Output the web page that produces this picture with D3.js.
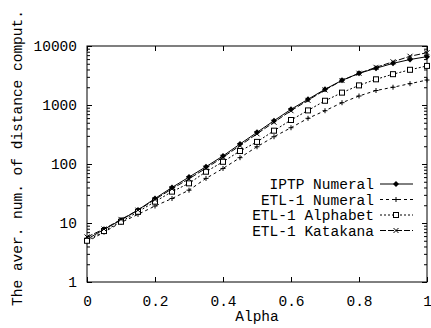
<!DOCTYPE html>
<html>
<head>
<meta charset="utf-8">
<script src="https://cdn.jsdelivr.net/npm/d3@7"></script>
<style>
body { margin: 0; background: #fff; }
text { font-family: "Liberation Mono", "Courier New", monospace; font-size: 14.5px; fill: #000; }
</style>
</head>
<body>
<script>
//alpha values on the x axis
var alphas = [0, 0.05, 0.1, 0.15, 0.2, 0.25, 0.3, 0.35, 0.4, 0.45, 0.5,
              0.55, 0.6, 0.65, 0.7, 0.75, 0.8, 0.85, 0.9, 0.95, 1];

//series values
var iptpNumeral = [5.3, 7.8, 11.2, 16.6, 26, 40, 60, 90, 137, 218, 344,
                   542, 845, 1250, 1846, 2620, 3440, 4200, 5080, 5900, 6600];
var etlNumeral = [4.8, 7.0, 10.2, 14, 19.4, 26, 36, 57, 84, 128, 196,
                  290, 412, 595, 800, 1094, 1420, 1760, 2000, 2300, 2650];
var etlAlphabet = [5.0, 7.3, 10.5, 15.5, 23, 34, 47, 74, 109, 166, 237,
                   367, 557, 810, 1180, 1620, 2150, 2725, 3330, 3950, 4600];
var etlKatakana = [5.8, 7.9, 11.5, 16.5, 25, 38, 56, 85, 130, 205, 325,
                   510, 800, 1200, 1800, 2600, 3450, 4350, 5400, 6700, 7700];

var seriesNames = ["IPTP Numeral", "ETL-1 Numeral", "ETL-1 Alphabet", "ETL-1 Katakana"];
var seriesValues = [iptpNumeral, etlNumeral, etlAlphabet, etlKatakana];

//tick labels
var xTicks = [0, 0.2, 0.4, 0.6, 0.8, 1];
var yTicks = [1, 10, 100, 1000, 10000];

window.onload = function(){

    var w = 431, h = 328;
    var svg = d3.select("body")
        .append("svg")
        .attr("width", w)
        .attr("height", h);

    var left = 87, right = 427, top = 46, bottom = 282;

    var x = d3.scaleLinear()
        .range([left, right])
        .domain([0, 1]);

    var y = d3.scaleLog()
        .range([bottom, top])
        .domain([1, 10000]);

    //line styles for each series
    var dashes = ["none", "3,3", "2,2", "6,2"];
    var markers = ["diamond", "plus", "square", "cross"];

    //frame
    svg.append("rect")
        .attr("x", left)
        .attr("y", top)
        .attr("width", right - left)
        .attr("height", bottom - top)
        .style("fill", "none")
        .style("stroke", "#000")
        .style("stroke-width", 1);

    //x axis, bottom and top, ticks pointing inward
    var xAxis = d3.axisBottom(x)
        .tickValues(xTicks)
        .tickSize(-5)
        .tickPadding(14)
        .tickFormat(function(d){ return d === 0 || d === 1 ? d3.format("d")(d) : d3.format(".1f")(d); });

    svg.append("g")
        .attr("transform", "translate(0," + bottom + ")")
        .call(xAxis);

    svg.append("g")
        .attr("transform", "translate(0," + top + ")")
        .call(d3.axisTop(x).tickValues(xTicks).tickSize(-5).tickFormat(""));

    //y axis with major and minor log ticks
    var minors = [];
    for (var p = 0; p < 4; p++){
        for (var k = 2; k < 10; k++){
            minors.push(k * Math.pow(10, p));
        }
    }

    svg.append("g")
        .attr("transform", "translate(" + left + ",0)")
        .call(d3.axisLeft(y).tickValues(yTicks).tickSize(-5).tickPadding(10).tickFormat(d3.format("d")));

    svg.append("g")
        .attr("transform", "translate(" + left + ",0)")
        .call(d3.axisLeft(y).tickValues(minors).tickSize(-3).tickFormat(""));

    svg.append("g")
        .attr("transform", "translate(" + right + ",0)")
        .call(d3.axisRight(y).tickValues(yTicks).tickSize(-5).tickFormat(""));

    svg.append("g")
        .attr("transform", "translate(" + right + ",0)")
        .call(d3.axisRight(y).tickValues(minors).tickSize(-3).tickFormat(""));

    svg.selectAll(".domain").remove();
    svg.selectAll(".tick line").style("stroke", "#000");
    svg.selectAll(".tick text")
        .style("font-family", "Liberation Mono, monospace")
        .style("font-size", "14.5px")
        .style("fill", "#000");

    //draws one marker symbol at a point
    function drawMarker(g, type, cx, cy){
        if (type === "diamond"){
            g.append("path")
                .attr("d", "M" + cx + "," + (cy - 3) + "L" + (cx + 3) + "," + cy +
                           "L" + cx + "," + (cy + 3) + "L" + (cx - 3) + "," + cy + "Z")
                .style("fill", "#000");
        } else if (type === "plus"){
            g.append("path")
                .attr("d", "M" + (cx - 2.5) + "," + cy + "H" + (cx + 2.5) + "M" + cx + "," + (cy - 2.5) + "V" + (cy + 2.5))
                .style("stroke", "#000")
                .style("fill", "none");
        } else if (type === "square"){
            g.append("rect")
                .attr("x", cx - 2.5)
                .attr("y", cy - 2.5)
                .attr("width", 5)
                .attr("height", 5)
                .style("fill", "#fff")
                .style("stroke", "#000");
        } else {
            g.append("path")
                .attr("d", "M" + (cx - 2.5) + "," + (cy - 2.5) + "L" + (cx + 2.5) + "," + (cy + 2.5) +
                           "M" + (cx - 2.5) + "," + (cy + 2.5) + "L" + (cx + 2.5) + "," + (cy - 2.5))
                .style("stroke", "#000")
                .style("fill", "none");
        }
    }

    var line = d3.line()
        .x(function(d, i){ return x(alphas[i]); })
        .y(function(d){ return y(d); });

    //draw each series
    seriesValues.forEach(function(vals, s){
        var g = svg.append("g").attr("class", "series");
        g.append("path")
            .datum(vals)
            .attr("d", line)
            .style("fill", "none")
            .style("stroke", "#000")
            .style("stroke-width", 1)
            .style("stroke-dasharray", dashes[s]);
        vals.forEach(function(v, i){
            drawMarker(g, markers[s], x(alphas[i]), y(v));
        });
    });

    //legend
    var legend = svg.append("g").attr("class", "legend");
    seriesNames.forEach(function(name, s){
        var ly = 184 + s * 15.5;
        legend.append("text")
            .attr("x", 374)
            .attr("y", ly + 5)
            .attr("text-anchor", "end")
            .text(name);
        legend.append("line")
            .attr("x1", 380)
            .attr("x2", 413)
            .attr("y1", ly)
            .attr("y2", ly)
            .style("stroke", "#000")
            .style("stroke-dasharray", dashes[s]);
        drawMarker(legend, markers[s], 396, ly);
    });

    //axis titles
    svg.append("text")
        .attr("x", 257)
        .attr("y", 321)
        .attr("text-anchor", "middle")
        .text("Alpha");

    svg.append("text")
        .attr("transform", "translate(22," + 158 + ") rotate(-90)")
        .attr("text-anchor", "middle")
        .text("The aver. num. of distance comput.");
};
</script>
</body>
</html>
